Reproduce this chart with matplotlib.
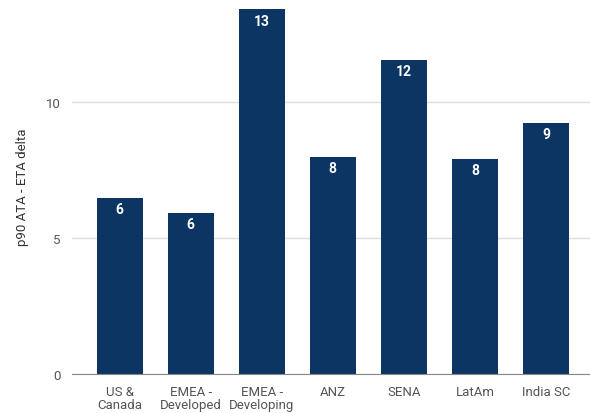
import matplotlib.pyplot as plt

# data
regions = ['US &\nCanada', 'EMEA -\nDeveloped', 'EMEA -\nDeveloping', 'ANZ', 'SENA', 'LatAm', 'India SC']
delta = [6.47, 5.92, 13.40, 7.98, 11.54, 7.90, 9.23]
yticks = [0, 5, 10]

plt.rcParams['font.family'] = ['Roboto', 'DejaVu Sans']

fig = plt.figure(figsize=(5.9, 4.14), dpi=100)
ax = fig.add_axes([72 / 590, 39 / 414, (590 - 72) / 590, 375 / 414])

x = range(len(regions))
bars = ax.bar(x, delta, width=0.65, color='#0c3563', zorder=3)

for b, v in zip(bars, delta):
    ax.annotate(f'{round(v):d}', (b.get_x() + b.get_width() / 2, v),
                xytext=(0, -3), textcoords='offset points',
                ha='center', va='top', color='white', fontsize=10, fontweight='bold', zorder=4)

ax.set_xlim(-0.67, 6.62)
ax.set_ylim(0, 13.78)
ax.set_xticks(list(x))
ax.set_xticklabels(regions, fontsize=9.5, color='#555555', linespacing=0.95)
ax.set_yticks(yticks)
ax.set_yticklabels([str(t) for t in yticks], fontsize=9.5, color='#555555')
ax.tick_params(length=0)
ax.tick_params(axis='x', pad=8)
ax.tick_params(axis='y', pad=8)
ax.set_ylabel('p90 ATA - ETA delta', fontsize=9.5, color='#333333', labelpad=12)

ax.grid(axis='y', color='#dddddd', linewidth=1, zorder=0)
for s in ['top', 'right', 'left']:
    ax.spines[s].set_visible(False)
ax.spines['bottom'].set_color('#888888')
ax.spines['bottom'].set_zorder(5)

fig.savefig('out.png', dpi=100)
